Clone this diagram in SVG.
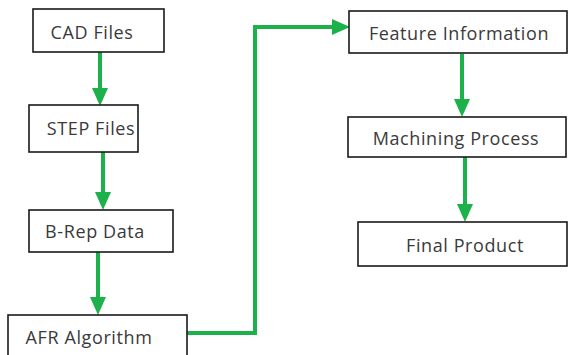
<svg xmlns="http://www.w3.org/2000/svg" width="570" height="355" viewBox="0 0 570 355">
<style>
.box{fill:#fff;stroke:#1a1a1a;stroke-width:1.6}
.lbl{font-family:"Open Sans","Liberation Sans",sans-serif;font-size:18px;letter-spacing:0.6px;fill:#3a3a3a;text-anchor:middle;dominant-baseline:central}
.con{fill:none;stroke:#1db14b;stroke-width:4;stroke-linejoin:miter}
</style>
<defs>
<marker id="ah" markerUnits="userSpaceOnUse" markerWidth="18" markerHeight="18" viewBox="0 0 18 18" refX="0" refY="9" orient="auto">
<path d="M0,1 L18,9 L0,17 Z" fill="#1db14b"/>
</marker>
</defs>
<rect width="570" height="355" fill="#fff"/>
<g id="connectors">
<path class="con" d="M100,52 V88" marker-end="url(#ah)"/>
<path class="con" d="M103,152 V192" marker-end="url(#ah)"/>
<path class="con" d="M98,252 V297" marker-end="url(#ah)"/>
<path class="con" d="M185,333 H255 V27 H332" marker-end="url(#ah)"/>
<path class="con" d="M462,54 V99" marker-end="url(#ah)"/>
<path class="con" d="M465,157 V204" marker-end="url(#ah)"/>
</g>
<g id="cad"><rect class="box" x="33" y="9" width="131" height="43"/><text class="lbl" x="92" y="32">CAD Files</text></g>
<g id="step"><rect class="box" x="29" y="105" width="109" height="47"/><text class="lbl" x="91" y="128">STEP Files</text></g>
<g id="brep"><rect class="box" x="29" y="210" width="144" height="42"/><text class="lbl" x="95" y="231">B-Rep Data</text></g>
<g id="afr"><rect class="box" x="8" y="315" width="179" height="45"/><text class="lbl" x="89" y="337">AFR Algorithm</text></g>
<g id="feature"><rect class="box" x="349" y="11" width="218" height="42"/><text class="lbl" x="459" y="33">Feature Information</text></g>
<g id="machining"><rect class="box" x="348" y="117" width="218" height="40"/><text class="lbl" x="456" y="138">Machining Process</text></g>
<g id="final"><rect class="box" x="358" y="222" width="209" height="44"/><text class="lbl" x="465" y="245">Final Product</text></g>
</svg>
